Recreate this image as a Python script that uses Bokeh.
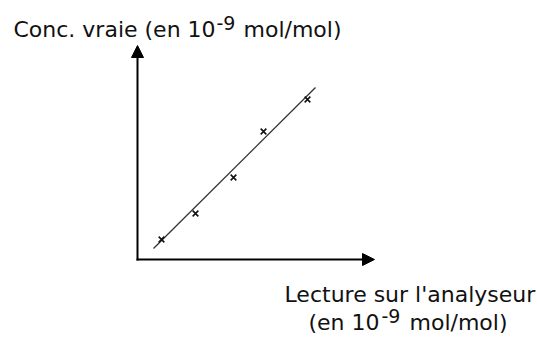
from bokeh.plotting import figure
from bokeh.models import Range1d, Arrow, NormalHead, Label
from bokeh.embed import file_html
from bokeh.resources import INLINE

# Analyser reading vs. true concentration (in 10^-9 mol/mol)
reading = [1.2, 2.9, 4.8, 6.3, 8.5]
true_conc = [1.0, 2.3, 4.1, 6.4, 8.0]

# Calibration line end points
fit_reading = [0.8, 8.9]
fit_true = [0.55, 8.6]

# Extent of the two axis arrows
x_axis_end = 11.85
y_axis_end = 10.7

# Layout: pixels per data unit and where the origin sits on the canvas
W, H = 537, 338
PX = 20.0
ORIGIN_X, ORIGIN_Y = 137, 259   # from left / from top

x_range = Range1d(-ORIGIN_X / PX, (W - ORIGIN_X) / PX)
y_range = Range1d(-(H - ORIGIN_Y) / PX, ORIGIN_Y / PX)

p = figure(width=W, height=H, x_range=x_range, y_range=y_range,
           x_axis_type=None, y_axis_type=None,
           toolbar_location=None, output_backend="svg",
           min_border=0, outline_line_color=None)
p.grid.visible = False
p.background_fill_color = "white"
p.border_fill_color = "white"

# Axes drawn as arrows from the origin
head = dict(size=12, fill_color="black", line_color="black", line_width=1)
p.add_layout(Arrow(x_start=0, y_start=-0.05, x_end=0, y_end=y_axis_end,
                   line_width=2, line_color="black", end=NormalHead(**head)))
p.add_layout(Arrow(x_start=-0.05, y_start=0, x_end=x_axis_end, y_end=0,
                   line_width=2, line_color="black", end=NormalHead(**head)))

# Calibration line and measured points
p.line(fit_reading, fit_true, line_color="#333333", line_width=1.3)
p.scatter(reading, true_conc, marker="x", size=8, line_color="#111111",
          line_width=1.6)

FONT = "DejaVu Sans"
BASELINE_SHIFT = 9   # label anchor sits this far above the drawn baseline


def txt(s, x, baseline, size):
    """Place text so its baseline lands `baseline` pixels below the top."""
    p.add_layout(Label(x=x, y=H - baseline + BASELINE_SHIFT,
                       x_units="screen", y_units="screen",
                       text=s, text_font=FONT, text_font_size=size,
                       text_color="#111111", text_baseline="alphabetic",
                       text_align="left"))


# Y-axis title
txt("Conc. vraie (en 10", 13, 38, "22px")
txt("-9", 216, 31, "19px")
txt("mol/mol)", 243, 38, "22px")

# X-axis title (two lines)
txt("Lecture sur l'analyseur", 284, 303, "22px")
txt("(en 10", 308, 331, "22px")
txt("-9", 381, 324, "19px")
txt("mol/mol)", 409, 331, "22px")

open("out.html", "w").write(file_html(p, INLINE))
